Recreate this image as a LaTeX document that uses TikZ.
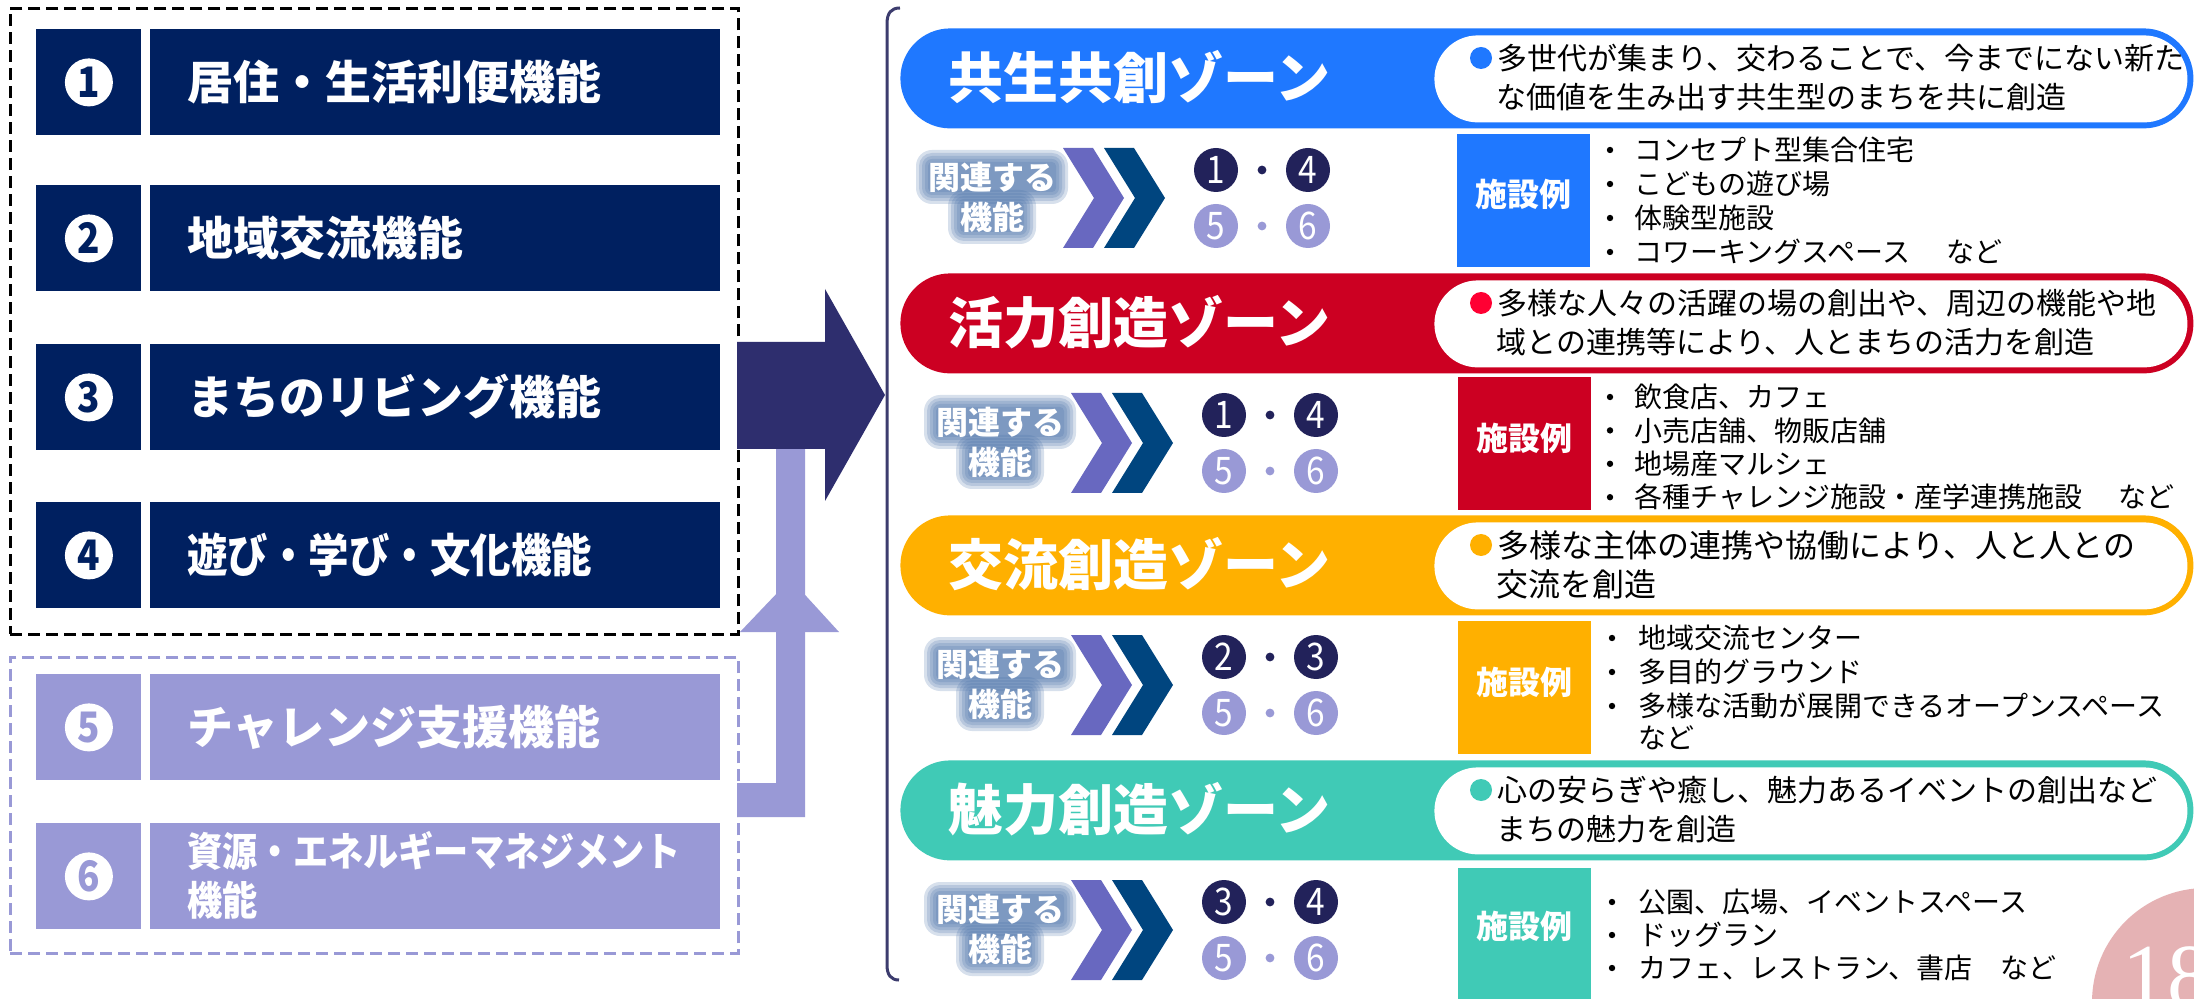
\documentclass[tikz,border=0pt]{standalone}
\usepackage{fontspec}
\setmainfont{Noto Sans CJK JP}
\newfontfamily\condf{Noto Sans CJK JP}[FakeStretch=0.88]
\newfontfamily\serifnum{Liberation Serif}
\usetikzlibrary{calc}

\definecolor{navy}{HTML}{002060}
\definecolor{lpurp}{HTML}{9999D6}
\definecolor{arrowc}{HTML}{2E2E6E}
\definecolor{zblue}{HTML}{1F78FF}
\definecolor{zred}{HTML}{CC0022}
\definecolor{bred}{HTML}{FF0033}
\definecolor{zorange}{HTML}{FFB000}
\definecolor{zteal}{HTML}{40CAB6}
\definecolor{chevA}{HTML}{6868C0}
\definecolor{chevB}{HTML}{00457F}
\definecolor{circD}{HTML}{22225A}
\definecolor{glowc}{HTML}{4A72AA}
\definecolor{brk}{HTML}{3C3C6E}
\definecolor{badge}{HTML}{E5B2B4}

% zone header: #1 id, #2 top, #3 colour, #4 bullet colour, #5 title, #6 line 1, #7 line 2, #8 font size
\newcommand\Zone[8]{%
  \node[pill,fill=#3,minimum width=646.5pt,minimum height=50pt,rounded corners=24.9pt] (#1pill) at (900,#2) {};
  \node[pill,fill=white,minimum width=376.5pt,minimum height=43.5pt,rounded corners=21.7pt] (#1wpill) at (1434,#2+7) {};
  \node[titletxt] (#1title) at (948,#2+49) {#5};
  \node[circle,fill=#4,inner sep=0,minimum size=11pt] (#1dot) at (1481,#2+30) {};
  \node[desctxt,font=\fontsize{#8}{#8}\selectfont] (#1la) at (1497,#2+30) {#6};
  \node[desctxt,font=\fontsize{#8}{#8}\selectfont] (#1lb) at (1496,#2+69) {#7};
}
% glow box behind a text line: #1 x, #2 y, #3 half width (pt), #4 half height (pt)
\newcommand\Glow[4]{%
  \foreach \e in {1,2.5,4,5.5,7}{%
    \fill[glowc,opacity=0.22,rounded corners=\e pt+1pt] ($(#1,#2)+(-#3pt-\e pt,-#4pt-\e pt)$) rectangle ($(#1,#2)+(#3pt+\e pt,#4pt+\e pt)$);
  }%
}
% related functions: #1 id, #2 top, #3 dx, #4 #5 numbers
\newcommand\Rel[5]{%
  \pgfmathsetmacro\gx{1000+#3}\pgfmathsetmacro\gya{#2+149}\pgfmathsetmacro\gyb{#2+189}%
  \Glow{\gx}{\gya}{31}{6.5}
  \Glow{\gx}{\gyb}{15}{6.5}
  \node[reltxt] (#1rela) at (\gx,\gya) {関連する};
  \node[reltxt] (#1relb) at (\gx,\gyb) {機能};
  \pgfmathsetmacro\cxa{1071+#3}\pgfmathsetmacro\cxb{1112+#3}%
  \fill[chevA] (\cxa,#2+120) -- ++(30,0) -- ++(31,50) -- ++(-31,50) -- ++(-30,0) -- ++(31,-50) -- cycle;
  \fill[chevB] (\cxb,#2+120) -- ++(30,0) -- ++(31,50) -- ++(-31,50) -- ++(-30,0) -- ++(31,-50) -- cycle;
  \pgfmathsetmacro\na{1224+#3}\pgfmathsetmacro\nb{1316+#3}\pgfmathsetmacro\nm{1270+#3}%
  \node[numc,fill=circD] (#1c1) at (\na,#2+142) {#4};
  \node[numc,fill=circD] (#1c2) at (\nb,#2+142) {#5};
  \node[circle,fill=circD,inner sep=0,minimum size=4.4pt] (#1m1) at (\nm,#2+142) {};
  \node[numc,fill=lpurp] (#1c3) at (\na,#2+198) {5};
  \node[numc,fill=lpurp] (#1c4) at (\nb,#2+198) {6};
  \node[circle,fill=lpurp,inner sep=0,minimum size=4.4pt] (#1m2) at (\nm,#2+198) {};
}

\begin{document}
\begin{tikzpicture}[x=0.5pt,y=-0.5pt,
  numcell/.style={anchor=north west,inner sep=0,minimum width=52.5pt,minimum height=53pt},
  labcell/.style={anchor=north west,inner sep=0,minimum width=285pt,minimum height=53pt},
  numdisc/.style={circle,fill=white,inner sep=0,minimum size=24pt,font=\condf\bfseries\fontsize{21}{21}\selectfont},
  labtxt/.style={anchor=west,inner sep=0,text=white,font=\bfseries\fontsize{23}{27}\selectfont},
  pill/.style={rectangle,anchor=north west,inner sep=0},
  titletxt/.style={anchor=west,inner sep=0,text=white,font=\bfseries\fontsize{27.5}{30}\selectfont},
  desctxt/.style={anchor=west,inner sep=0,text=black},
  reltxt/.style={inner sep=0,text=white,font=\bfseries\fontsize{16}{20}\selectfont},
  numc/.style={circle,inner sep=0,minimum size=22pt,text=white,font=\condf\fontsize{19}{19}\selectfont},
  facbox/.style={anchor=north west,inner sep=0,minimum width=66.5pt,minimum height=66.5pt},
  factxt/.style={inner sep=0,text=white,font=\bfseries\fontsize{16}{16}\selectfont},
  listtxt/.style={anchor=west,inner sep=0,text=black,font=\fontsize{14}{14}\selectfont},
  lbul/.style={circle,fill=black,inner sep=0,minimum size=3.2pt},
  blackdash/.style={draw=black,line width=1.4pt,dash pattern=on 6pt off 3pt},
  purpdash/.style={draw=lpurp,line width=1.4pt,dash pattern=on 6pt off 3pt}
]
\useasboundingbox (0,0) rectangle (2194,999);
\fill[white] (0,0) rectangle (2194,999);

% ---------- left: functions ----------
\node[blackdash,anchor=north west,inner sep=0,minimum width=364pt,minimum height=313pt] (grpA) at (9,7) {};
\node[purpdash,anchor=north west,inner sep=0,minimum width=364pt,minimum height=148pt] (grpB) at (9,656) {};

\foreach \i/\y/\c/\t in {1/29/navy/居住・生活利便機能,2/185/navy/地域交流機能,3/344/navy/まちのリビング機能,5/674/lpurp/チャレンジ支援機能}{
  \node[numcell,fill=\c] (n\i) at (36,\y) {};
  \node[labcell,fill=\c] (l\i) at (150,\y) {};
  \node[numdisc,text=\c] (d\i) at (n\i.center) {\i};
  \node[labtxt] (t\i) at (187,\y+53) {\t};
}
\node[numcell,fill=navy] (n4) at (36,502) {};
\node[labcell,fill=navy] (l4) at (150,502) {};
\node[numdisc,text=navy] (d4) at (n4.center) {4};
\node[labtxt,font=\condf\bfseries\fontsize{23}{27}\selectfont] (t4) at (187,555) {遊び・学び・文化機能};

\node[numcell,fill=lpurp] (n6) at (36,823) {};
\node[labcell,fill=lpurp] (l6) at (150,823) {};
\node[numdisc,text=lpurp] (d6) at (n6.center) {6};
\node[labtxt,font=\condf\bfseries\fontsize{20}{24}\selectfont] (t6a) at (187,851) {資源・エネルギーマネジメント};
\node[labtxt,font=\condf\bfseries\fontsize{20}{24}\selectfont] (t6b) at (187,900) {機能};

% ---------- arrows ----------
\fill[lpurp] (737,783) -- (776,783) -- (776,440) -- (805,440) -- (805,817) -- (737,817) -- cycle;
\fill[lpurp] (740,632) -- (790.5,579) -- (839,632) -- cycle;
\fill[arrowc] (737,342) -- (825,342) -- (825,289) -- (885,395) -- (825,501) -- (825,449) -- (737,449) -- cycle;

% ---------- bracket ----------
\draw[brk,line width=1.5pt] (900,8) .. controls (891,8) and (887,13) .. (887,24) -- (887,965) .. controls (887,975) and (891,980) .. (899,980);

% ---------- zones ----------
\Zone{z1}{28}{zblue}{zblue}{共生共創ゾーン}{多世代が集まり、交わることで、今までにない新た}{な価値を生み出す共生型のまちを共に創造}{15}
\Zone{z2}{273}{zred}{bred}{活力創造ゾーン}{多様な人々の活躍の場の創出や、周辺の機能や地}{域との連携等により、人とまちの活力を創造}{15}
\Zone{z3}{515}{zorange}{zorange}{交流創造ゾーン}{多様な主体の連携や協働により、人と人との}{交流を創造}{16}
\Zone{z4}{760}{zteal}{zteal}{魅力創造ゾーン}{心の安らぎや癒し、魅力あるイベントの創出など}{まちの魅力を創造}{15}

\Rel{r1}{28}{-8}{1}{4}
\Rel{r2}{273}{0}{1}{4}
\Rel{r3}{515}{0}{2}{3}
\Rel{r4}{760}{0}{3}{4}

% facility boxes
\node[facbox,fill=zblue] (f1) at (1457,134) {};
\node[factxt] (f1t) at (1523,194) {施設例};
\node[facbox,fill=zred] (f2) at (1458,377) {};
\node[factxt] (f2t) at (1524,438) {施設例};
\node[facbox,fill=zorange] (f3) at (1458,621) {};
\node[factxt] (f3t) at (1524,682) {施設例};
\node[facbox,fill=zteal,minimum height=70pt] (f4) at (1458,868) {};
\node[factxt] (f4t) at (1524,926) {施設例};

% lists
\foreach \k/\s in {0/コンセプト型集合住宅,1/こどもの遊び場,2/体験型施設,3/{コワーキングスペース\hspace{18pt}など}}{
  \node[lbul] (z1b\k) at (1610,150+34*\k) {};
  \node[listtxt] (z1i\k) at (1634,150+34*\k) {\s};
}
\foreach \k/\s in {0/飲食店、カフェ,1/小売店舗、物販店舗,2/地場産マルシェ,3/{各種チャレンジ施設・産学連携施設\hspace{18pt}など}}{
  \node[lbul] (z2b\k) at (1610,397+33.4*\k) {};
  \node[listtxt] (z2i\k) at (1634,397+33.4*\k) {\s};
}
\foreach \k/\s in {0/地域交流センター,1/多目的グラウンド,2/多様な活動が展開できるオープンスペース}{
  \node[lbul] (z3b\k) at (1612,638+34*\k) {};
  \node[listtxt] (z3i\k) at (1638,638+34*\k) {\s};
}
\node[listtxt] (z3i3) at (1638,738) {など};
\foreach \k/\s in {0/公園、広場、イベントスペース,1/ドッグラン,2/{カフェ、レストラン、書店\hspace{14pt}など}}{
  \node[lbul] (z4b\k) at (1612,902+33*\k) {};
  \node[listtxt] (z4i\k) at (1638,902+33*\k) {\s};
}

% page badge
\begin{scope}
  \clip (0,0) rectangle (2194,999);
  \fill[badge] (2206,1002) circle (57pt);
  \node[anchor=base west,inner sep=0,text=white,font=\serifnum\fontsize{45}{45}\selectfont] (pg) at (2122,1006) {18};
\end{scope}
\end{tikzpicture}
\end{document}
